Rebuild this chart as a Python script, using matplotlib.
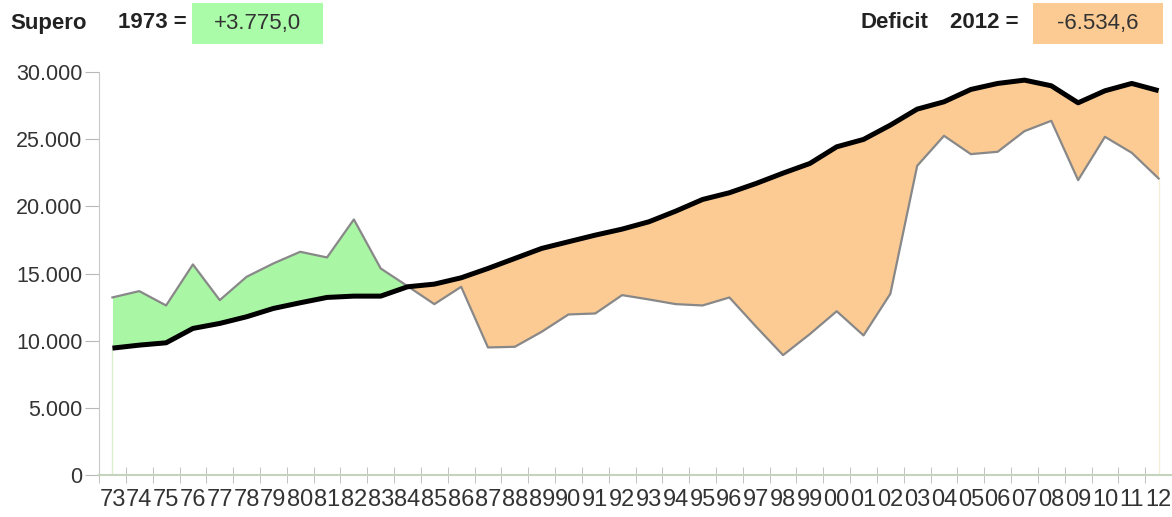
import matplotlib.pyplot as plt
import numpy as np

plt.rcParams['font.family'] = ['Liberation Sans', 'DejaVu Sans']

years = list(range(1973, 2013))
labels = [str(y)[2:] for y in years]

# grey line (entrate) and black line (spese)
entrate = [13228, 13697, 12630, 15684, 13027, 14762, 15758, 16625, 16205, 19033,
           15385, 14070, 12729, 14020, 9504, 9553, 10670, 11960, 12034, 13400,
           13077, 12729, 12630, 13226, 11040, 8933, 10500, 12200, 10400, 13500,
           23025, 25260, 23896, 24070, 25607, 26376, 21960, 25186, 23995, 22084]
spese = [9453, 9677, 9850, 10920, 11292, 11788, 12408, 12830, 13228, 13325,
         13325, 14020, 14218, 14690, 15385, 16130, 16875, 17372, 17866, 18313,
         18860, 19652, 20520, 21020, 21715, 22480, 23200, 24440, 24990, 26054,
         27245, 27790, 28710, 29157, 29404, 28983, 27715, 28610, 29157, 28619]

yticks = [0, 5000, 10000, 15000, 20000, 25000, 30000]
ytick_labels = ['0', '5.000', '10.000', '15.000', '20.000', '25.000', '30.000']

green = '#a9f7a5'
orange = '#fccb94'

fig = plt.figure(figsize=(11.72, 5.17), dpi=100)
ax = fig.add_axes([0.0845, 0.081, 0.9155, 0.7795])

x = np.arange(len(years))
e = np.array(entrate)
s = np.array(spese)
ax.fill_between(x, s, e, where=e >= s, interpolate=True, color=green, lw=0, zorder=2)
ax.fill_between(x, s, e, where=e <= s, interpolate=True, color=orange, lw=0, zorder=2)
ax.vlines(x[0], 0, s[0], color='#dcefcc', lw=1, zorder=1)
ax.vlines(x[-1], 0, e[-1], color='#f6efd8', lw=1, zorder=1)
ax.plot(x, e, color='#888888', lw=1.6, zorder=3)
ax.plot(x, s, color='black', lw=3.6, zorder=4, solid_capstyle='butt', clip_on=False)

ax.set_xlim(-0.5, len(years) - 0.5)
ax.set_ylim(0, 30000)
ax.set_yticks(yticks)
ax.set_yticklabels(ytick_labels)
ax.set_xticks(x)
ax.set_xticklabels(labels)
ax.set_xticks(np.arange(-0.5, len(years)), minor=True)

for sp in ['top', 'right']:
    ax.spines[sp].set_visible(False)
ax.spines['left'].set_color('#c8c8c8')
ax.spines['bottom'].set_color('#c4d4bc')
ax.spines['bottom'].set_linewidth(1.5)

ax.tick_params(axis='y', length=10, color='#b8b8b8', labelsize=15.5, labelcolor='#333333', pad=2)
ax.tick_params(axis='x', which='major', length=0, labelsize=17, labelcolor='#333333', pad=10)
ax.tick_params(axis='x', which='minor', length=11, direction='inout', color='#b8b8b8')

# header
hy = 1 - 23 / 517
fig.text(10 / 1172, hy, 'Supero', fontsize=16, fontweight='bold', color='#222222', va='center')
fig.text(118 / 1172, hy, '1973 =', fontsize=16, fontweight='bold', color='#222222', va='center')
fig.patches.append(plt.Rectangle((192 / 1172, 1 - 44 / 517), 131 / 1172, 41 / 517,
                                 transform=fig.transFigure, color='#aafca8', lw=0))
fig.text(257 / 1172, hy, '+3.775,0', fontsize=16, color='#333333', va='center', ha='center')

fig.text(860 / 1172, hy, 'Deficit', fontsize=16, fontweight='bold', color='#222222', va='center')
fig.text(950 / 1172, hy, '2012 =', fontsize=16, fontweight='bold', color='#222222', va='center')
fig.patches.append(plt.Rectangle((1033 / 1172, 1 - 44 / 517), 130 / 1172, 41 / 517,
                                 transform=fig.transFigure, color='#fccb94', lw=0))
fig.text(1098 / 1172, hy, '-6.534,6', fontsize=16, color='#333333', va='center', ha='center')

fig.savefig('out.png', dpi=100)
